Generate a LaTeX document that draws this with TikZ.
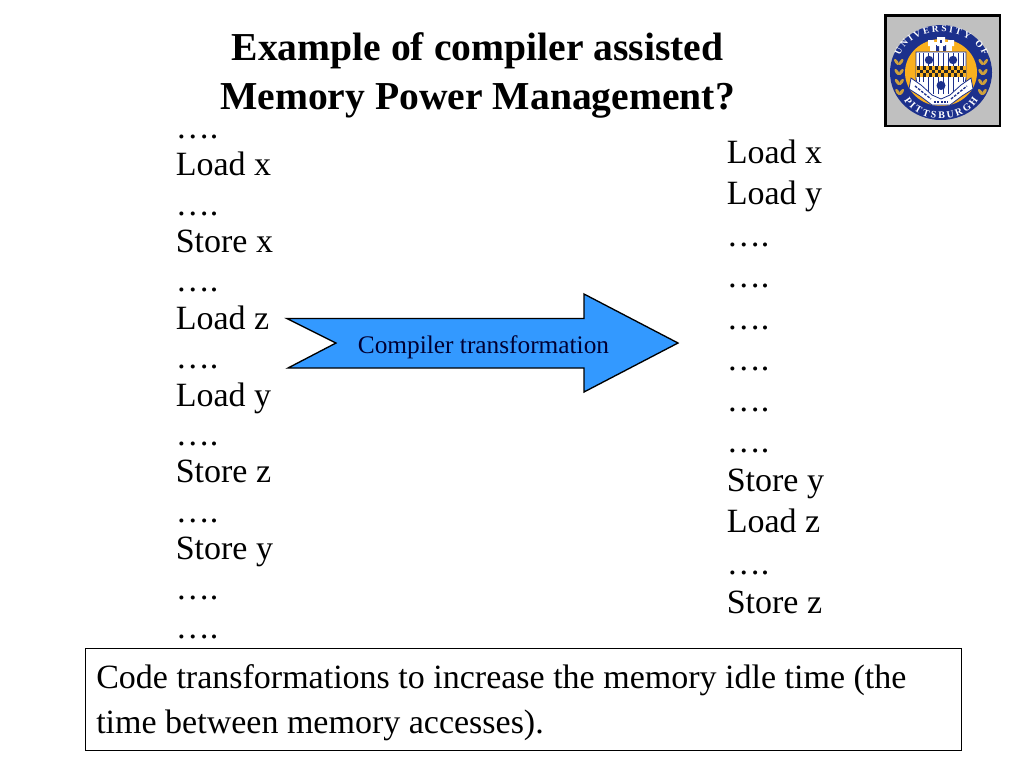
\documentclass[tikz,border=0pt]{standalone}
\usepackage{fontspec}
\setmainfont{Liberation Serif}
\usetikzlibrary{decorations.text}
\definecolor{arrowblue}{RGB}{51,153,255}
\definecolor{sealblue}{RGB}{28,48,140}
\definecolor{sealgold}{RGB}{250,176,30}
\definecolor{leafgold}{RGB}{205,160,60}
\definecolor{sealgray}{RGB}{192,192,192}
\definecolor{labelnavy}{RGB}{0,0,51}
\tikzset{
  x=0.75pt,y=-0.75pt,
  code/.style={anchor=base west,inner sep=0pt,font=\fontsize{25.5}{25.5}\selectfont},
  titletext/.style={anchor=base,inner sep=0pt,font=\fontsize{29.7}{29.7}\selectfont\bfseries},
  arrowshape/.style={draw=black,fill=arrowblue,line width=1pt,line join=miter},
  notebox/.style={draw=black,line width=0.75pt,fill=white},
  shieldline/.style={draw=sealblue,line width=0.7pt},
  leaf/.style={fill=leafgold}
}
\begin{document}
\begin{tikzpicture}
\useasboundingbox (0,0) rectangle (1024,768);
\fill[white] (0,0) rectangle (1024,768);
% title
\node[titletext] (t1) at (477.5,60) {Example of compiler assisted};
\node[titletext] (t2) at (477.5,109) {Memory Power Management?};
% left column
\foreach \n/\y/\s in {a/138/….,b/175.5/Load x,c/215/….,d/252.5/Store x,e/291/….,f/329/Load z,g/368/….,h/406/Load y,i/445/….,j/482.5/Store z,k/522/….,l/559.5/Store y,m/599/….,n/638/….}
  \node[code] (l\n) at (175.5,\y) {\s};
% right column
\foreach \n/\y/\s in {a/163/Load x,b/204/Load y,c/246/….,d/287/….,e/329/….,f/370/….,g/411/….,h/452/….,i/491/Store y,j/532/Load z,k/574/….,l/613.5/Store z}
  \node[code] (r\n) at (726.5,\y) {\s};
% arrow
\draw[arrowshape] (287,318.5) -- (584,318.5) -- (584,294) -- (678,343) -- (584,392) -- (584,368) -- (288,368) -- (336,343) -- cycle;
\node[anchor=base,inner sep=0pt,text=labelnavy,font=\fontsize{19}{19}\selectfont] (arrowlabel) at (483.5,353) {Compiler transformation};
% note
\draw[notebox] (85,648) rectangle (961,750);
\node[code] (note1) at (96,688) {Code transformations to increase the memory idle time (the};
\node[code] (note2) at (96,733) {time between memory accesses).};
% seal
\draw[fill=sealgray,draw=black,line width=2.2pt] (885.5,15.5) rectangle (1000,126);
\fill[sealblue] (941,72.5) ellipse [x radius=51,y radius=47.5];
\fill[sealgold] (941,72.5) ellipse [x radius=36,y radius=33.5];
% laurels
\foreach \a in {0,1,2,3} {
  \fill[leaf,rotate around={35:(896.5+\a*0.4,62+\a*10)}] (896.5+\a*0.4,62+\a*10) ellipse [x radius=1.6,y radius=3.6];
  \fill[leaf,rotate around={-35:(901+\a*0.2,62+\a*10)}] (901+\a*0.2,62+\a*10) ellipse [x radius=1.6,y radius=3.6];
  \fill[leaf,rotate around={-35:(985.5-\a*0.4,62+\a*10)}] (985.5-\a*0.4,62+\a*10) ellipse [x radius=1.6,y radius=3.6];
  \fill[leaf,rotate around={35:(981-\a*0.2,62+\a*10)}] (981-\a*0.2,62+\a*10) ellipse [x radius=1.6,y radius=3.6];
}
% ring text
\path[decorate,decoration={text along path,text={|\fontsize{7}{7}\selectfont\bfseries\color{white}|UNIVERSITY OF},text align={fit to path}}]
  (900,56) .. controls (911,24) and (971,24) .. (983,56);
\path[decorate,decoration={text along path,text={|\fontsize{7.5}{7.5}\selectfont\bfseries\color{white}|PITTSBURGH},text align={fit to path}}]
  (904,100) .. controls (918,125) and (964,125) .. (978,100);
% castle
\fill[white] (930,42) rectangle (952,51);
\fill[sealblue] (936,45) rectangle (939,51) (943,45) rectangle (946,51);
\fill[white] (928,40) rectangle (934,46) (937,37) rectangle (945,46) (948,40) rectangle (954,46);
\fill[sealblue] (940,40) rectangle (942,43);
% shield
\path[fill=white,draw=sealblue,line width=0.7pt] (916,52) -- (966,52) -- (966,78) .. controls (966,90) and (952,96) .. (941,101) .. controls (930,96) and (916,90) .. (916,78) -- cycle;
\foreach \i in {0,...,9} \draw[shieldline] (919+\i*4.9,53) -- (919+\i*4.9,{\i<2 || \i>7 ? 82 : 94});
% checker band
\fill[sealgold] (916,66) rectangle (966,77);
\foreach \i in {0,...,7} {
  \fill[black!85] (916.5+\i*6.2,66) rectangle ++(3.1,3.7);
  \fill[black!85] (919.6+\i*6.2,69.7) rectangle ++(3.1,3.7);
  \fill[black!85] (916.5+\i*6.2,73.4) rectangle ++(3.1,3.7);
}
\fill[sealblue] (929,60) circle [radius=4.2] (953,60) circle [radius=4.2] (941,85.5) circle [radius=4.5];
% banner
\path[fill=white,draw=sealblue,line width=0.6pt] (911,78) -- (921,85) -- (932,95) -- (941,99) -- (950,95) -- (961,85) -- (971,78) -- (973,89) -- (962,96) -- (950,105) -- (932,105) -- (920,96) -- (909,89) -- cycle;
\draw[sealblue,line width=1pt,dash pattern=on 2pt off 1pt] (915,86) -- (931,99) (951,99) -- (967,86);
\draw[sealblue,line width=1pt,dash pattern=on 1.5pt off 1pt] (934,102) -- (948,102);
\end{tikzpicture}
\end{document}
